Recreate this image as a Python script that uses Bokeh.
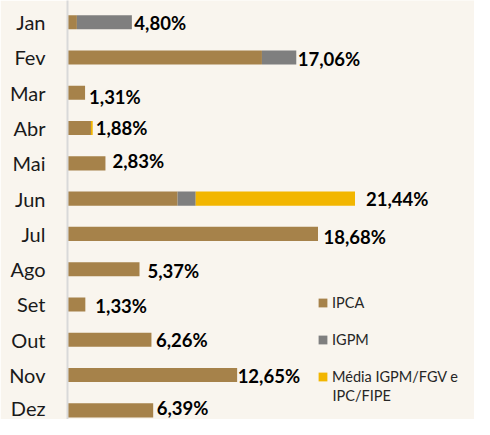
from bokeh.plotting import figure
from bokeh.models import ColumnDataSource, Range1d, FixedTicker, Legend, LegendItem, Label
from bokeh.core.properties import value
from bokeh.embed import file_html
from bokeh.resources import INLINE

# ---- data ----
months = ["Jan", "Fev", "Mar", "Abr", "Mai", "Jun", "Jul", "Ago", "Set", "Out", "Nov", "Dez"]
ipca = [0.70, 14.50, 1.31, 1.75, 2.83, 8.21, 18.68, 5.37, 1.33, 6.26, 12.65, 6.39]
igpm = [4.10, 2.56, 0.00, 0.00, 0.00, 1.35, 0.00, 0.00, 0.00, 0.00, 0.00, 0.00]
media = [0.00, 0.00, 0.00, 0.13, 0.00, 11.88, 0.00, 0.00, 0.00, 0.00, 0.00, 0.00]
series_names = ["IPCA", "IGPM", "Média IGPM/FGV e"]
series_name_cont = "IPC/FIPE"

# label placement tweaks (px), mimicking manually placed data labels
label_dx = [2.5, 1.5, 4, 3, 7, 11, 5.5, 8, 10, 4.5, 0.5, 3.5]
label_dy = [0.5, 1.5, 4.5, -0.5, -2, 0.5, 3, 2, 1.5, 0, 1, -2]

BG = "#F9F5EE"
COLORS = ["#A6824A", "#7F7F7F", "#F2B600"]

ys = list(range(len(months)))
totals = [round(a + b + c, 2) for a, b, c in zip(ipca, igpm, media)]
labels = [f"{t:.2f}".replace(".", ",") + "%" for t in totals]

src = ColumnDataSource(dict(y=ys, ipca=ipca, igpm=igpm, media=media,
                            total=totals, label=labels, dx=label_dx, dy=label_dy))

PX_PER_UNIT = 13.41
W, H = 474, 419
LEFT = 67
p = figure(width=W, height=H, output_backend="svg", toolbar_location=None,
           x_range=Range1d(0, (W - LEFT) / PX_PER_UNIT),
           y_range=Range1d(11.26, -0.615),
           x_axis_location=None,
           min_border_left=LEFT, min_border_right=0, min_border_top=0, min_border_bottom=0)
p.background_fill_color = BG
p.border_fill_color = BG
p.outline_line_color = None
p.grid.visible = False

rs = p.hbar_stack(["ipca", "igpm", "media"], y="y", height=0.4, fill_color=COLORS,
                  line_color=None, source=src)

p.text(x="total", y="y", text="label", x_offset="dx", y_offset="dy", source=src,
       text_font=value("Lato"), text_font_style="bold", text_font_size="18.5px",
       text_baseline="middle", text_align="left", text_color="#000000")

ax = p.yaxis[0]
ax.ticker = FixedTicker(ticks=ys)
ax.major_label_overrides = {i: m for i, m in zip(ys, months)}
ax.major_label_text_font = "Lato"
ax.major_label_text_font_size = "20px"
ax.major_label_text_color = "#1A1A1A"
ax.major_label_standoff = 22
ax.major_tick_out = 0
ax.major_tick_in = 0
ax.minor_tick_out = 0
ax.minor_tick_in = 0
ax.major_tick_line_color = None
ax.minor_tick_line_color = None
ax.axis_line_color = "#D9D9D9"
ax.axis_line_width = 2

items = [LegendItem(label=n, renderers=[r]) for n, r in zip(series_names, rs)]
legend = Legend(items=items, location=(250, 33), orientation="vertical",
                glyph_width=11, glyph_height=11, label_standoff=4,
                label_height=20, spacing=17, padding=0, margin=0,
                label_text_font="Lato", label_text_font_size="14.5px",
                label_text_color="#262626",
                border_line_color=None, background_fill_alpha=0)
p.add_layout(legend, "center")

cont = Label(x=265, y=24, x_units="screen", y_units="screen", text=series_name_cont,
             text_font="Lato", text_font_size="14.5px", text_color="#262626",
             text_baseline="middle", text_align="left")
p.add_layout(cont)

open("out.html", "w").write(file_html(p, INLINE))
